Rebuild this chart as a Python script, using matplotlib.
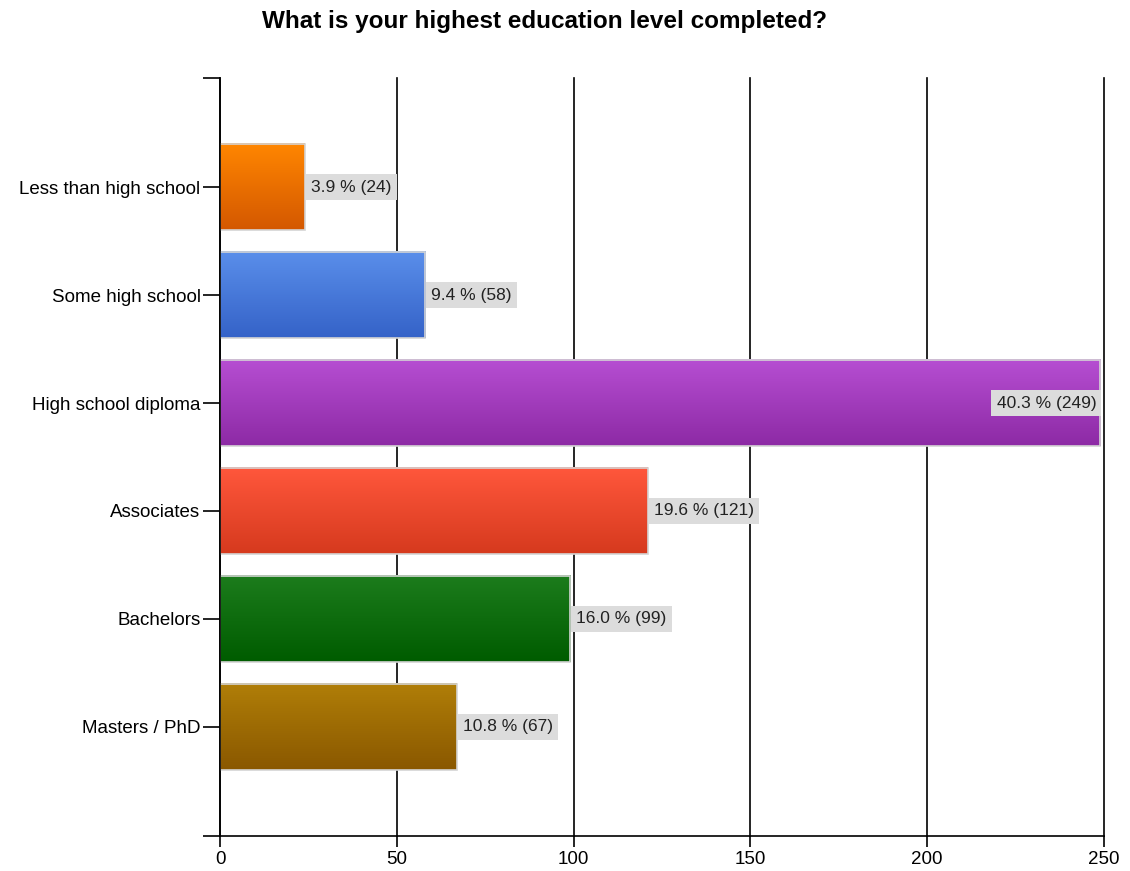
import numpy as np
import matplotlib
matplotlib.use("Agg")
import matplotlib.pyplot as plt
from matplotlib.colors import LinearSegmentedColormap

categories = ["Less than high school", "Some high school", "High school diploma",
              "Associates", "Bachelors", "Masters / PhD"]
counts = [24, 58, 249, 121, 99, 67]
percents = [3.9, 9.4, 40.3, 19.6, 16.0, 10.8]
# gradient colours, top -> bottom of each bar
top_colors = ["#ff8600", "#5a8eea", "#b64ed2", "#ff573c", "#1c7c1c", "#b07e08"]
bottom_colors = ["#d45800", "#3563c8", "#8d2aa5", "#d63a1e", "#005c00", "#8a5800"]
xticks = [0, 50, 100, 150, 200, 250]

plt.rcParams['font.family'] = ['Liberation Sans', 'DejaVu Sans']

fig = plt.figure(figsize=(11.3, 8.71), dpi=100)
ax = fig.add_axes([0.1947, 0.0402, 0.7823, 0.8702])

ypos = np.arange(len(categories))
bar_h = 0.8
ax.set_xlim(0, 250)
ax.set_ylim(len(categories) - 1 + 1.01, -1.01)

grad = np.linspace(0, 1, 64).reshape(-1, 1)
for i, (c, p) in enumerate(zip(counts, percents)):
    cmap = LinearSegmentedColormap.from_list("g%d" % i, [top_colors[i], bottom_colors[i]])
    y0, y1 = i - bar_h / 2, i + bar_h / 2
    ax.imshow(grad, cmap=cmap, aspect="auto", extent=(0, c, y1, y0),
              interpolation="bilinear", zorder=3)
    ax.barh(i, c, height=bar_h, facecolor="none", edgecolor="#d4d4d4",
            linewidth=1.2, zorder=4)
    label = "%.1f %% (%d)" % (p, c)
    box = dict(boxstyle="square,pad=0.3", fc="#dcdcdc", ec="none")
    if c > 230:
        ax.text(c - 1.2, i, label, ha="right", va="center", fontsize=12.5,
                color="#222222", zorder=6, bbox=box)
    else:
        ax.text(c + 1.8, i, label, ha="left", va="center", fontsize=12.5,
                color="#222222", zorder=6, bbox=box)

ax.set_xticks(xticks)
ax.set_xticklabels([str(t) for t in xticks], fontsize=13.5)
ax.set_yticks(ypos)
ax.set_yticklabels(categories, fontsize=13.5)
ax.set_yticks([-1.01, len(categories) - 1 + 1.01], minor=True)
ax.tick_params(axis="y", which="both", length=12, width=1.2, color="black", pad=2)
ax.tick_params(axis="x", length=8, width=1.2, color="black", pad=3)

ax.grid(axis="x", color="black", linewidth=1.2, zorder=1)
for gl in ax.get_xgridlines():
    gl.set_clip_on(False)
ax.set_axisbelow(True)
for side in ["top", "right"]:
    ax.spines[side].set_visible(False)
for side in ["left", "bottom"]:
    ax.spines[side].set_linewidth(1.2)
    ax.spines[side].set_zorder(5)

fig.text(0.482, 0.975, "What is your highest education level completed?",
         ha="center", va="center", fontsize=17.5, fontweight="bold")

fig.savefig("out.png", dpi=100)
